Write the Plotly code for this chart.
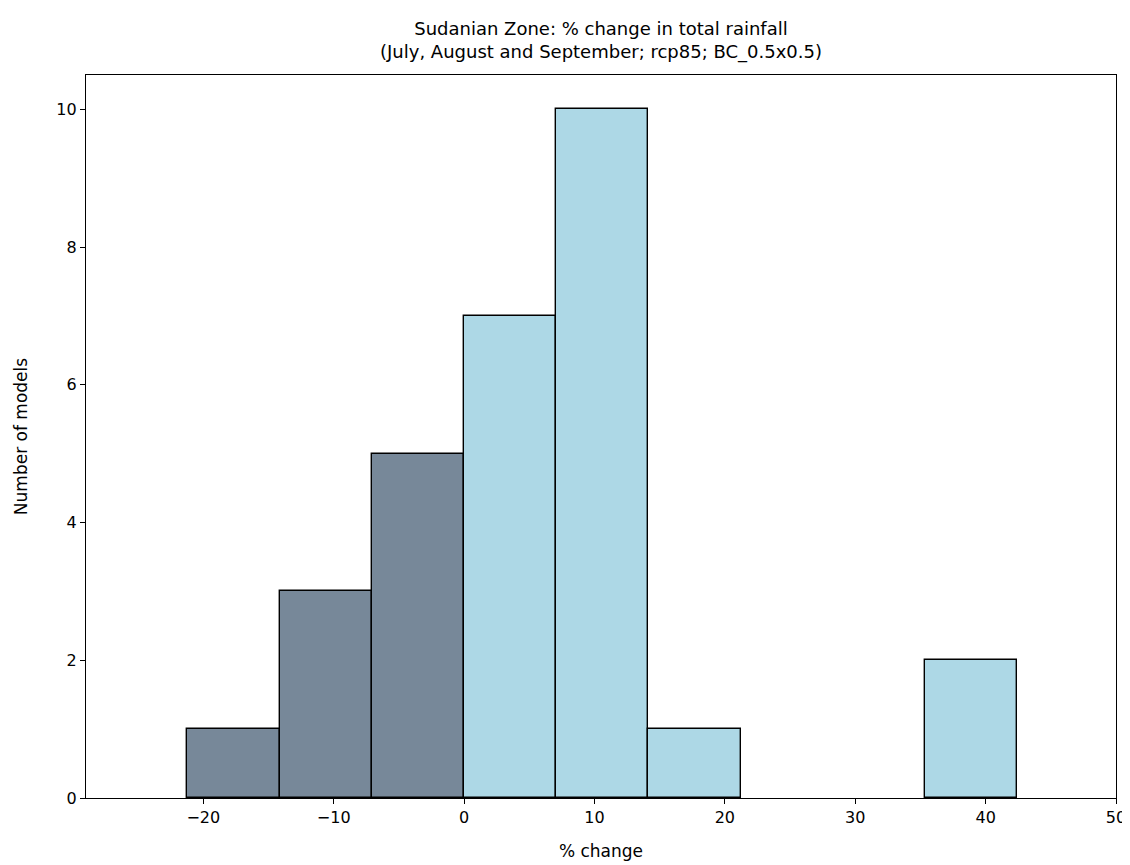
import plotly.graph_objects as go

bin_edges = [-21.22, -14.14, -7.07, 0.0, 7.07, 14.14, 21.22, 28.29, 35.37, 42.44]
counts = [1, 3, 5, 7, 10, 1, 0, 0, 2]
x_ticks = [-20, -10, 0, 10, 20, 30, 40, 50]
y_ticks = [0, 2, 4, 6, 8, 10]

dark_color = "#778899"
light_color = "#ADD8E6"

centers = [(a + b) / 2 for a, b in zip(bin_edges[:-1], bin_edges[1:])]
widths = [b - a for a, b in zip(bin_edges[:-1], bin_edges[1:])]

neg = [i for i in range(len(counts)) if bin_edges[i + 1] <= 0]
pos = [i for i in range(len(counts)) if bin_edges[i + 1] > 0 and counts[i] > 0]

fig = go.Figure()
fig.add_trace(go.Bar(
    x=[centers[i] for i in neg], y=[counts[i] for i in neg],
    width=[widths[i] for i in neg],
    marker=dict(color=dark_color, line=dict(color="black", width=1.4)),
    showlegend=False,
))
fig.add_trace(go.Bar(
    x=[centers[i] for i in pos], y=[counts[i] for i in pos],
    width=[widths[i] for i in pos],
    marker=dict(color=light_color, line=dict(color="black", width=1.4)),
    showlegend=False,
))

font = "DejaVu Sans"
L, R, T, B = 78, 22, 67, 75
fig.update_layout(
    width=1130, height=865,
    margin=dict(l=L, r=R, t=T, b=B),
    plot_bgcolor="white", paper_bgcolor="white",
    font=dict(family=font, size=16, color="black"),
    bargap=0,
    xaxis=dict(
        range=[-29, 50], tickvals=x_ticks,
        showgrid=False, zeroline=False,
        showline=True, linecolor="black", linewidth=1.2, mirror=True,
        ticks="outside", ticklen=5, tickcolor="black",
        title=dict(text="% change", font=dict(family=font, size=17), standoff=18),
    ),
    yaxis=dict(
        range=[0, 10.5], tickvals=y_ticks,
        showgrid=False, zeroline=False,
        showline=True, linecolor="black", linewidth=1.2, mirror=True,
        ticks="outside", ticklen=5, tickcolor="black",
        title=dict(text="Number of models", font=dict(family=font, size=17), standoff=24),
    ),
)
fig.add_annotation(
    text="Sudanian Zone: % change in total rainfall<br>(July, August and September; rcp85; BC_0.5x0.5)",
    xref="paper", yref="paper", x=0.5, y=1, xanchor="center", yanchor="bottom",
    yshift=10, showarrow=False, align="center",
    font=dict(family=font, size=18, color="black"),
)

fig.write_html("out.html")
